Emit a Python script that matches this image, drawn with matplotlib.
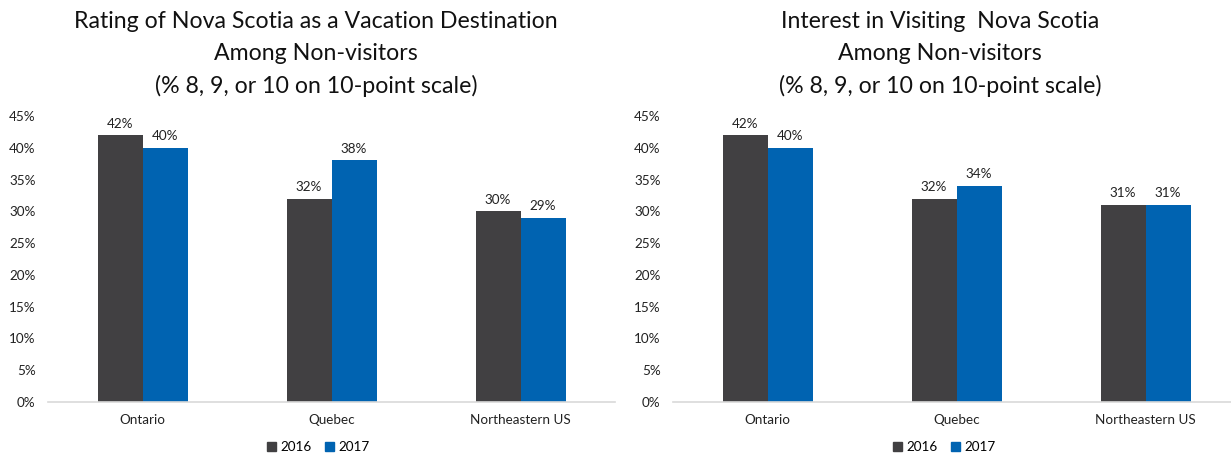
import matplotlib
matplotlib.use("Agg")
import matplotlib.pyplot as plt
from matplotlib.patches import Patch
from matplotlib.ticker import PercentFormatter, MultipleLocator
import numpy as np

plt.rcParams["font.family"] = ["Lato", "DejaVu Sans"]

regions = ["Ontario", "Quebec", "Northeastern US"]
years = ["2016", "2017"]

rating_2016 = [42, 32, 30]
rating_2017 = [40, 38, 29]
interest_2016 = [42, 32, 31]
interest_2017 = [40, 34, 31]

title_left = ["Rating of Nova Scotia as a Vacation Destination",
              "Among Non-visitors",
              "(% 8, 9, or 10 on 10-point scale)"]
title_right = ["Interest in Visiting  Nova Scotia",
               "Among Non-visitors",
               "(% 8, 9, or 10 on 10-point scale)"]

C16 = "#414042"
C17 = "#0063b1"
W, H = 1231, 453


def draw_panel(fig, left_px, v16, v17):
    ax = fig.add_axes([left_px / W, (H - 402) / H, 567 / W, 286 / H])
    x = np.arange(len(regions))
    bw = 45 / 189
    b1 = ax.bar(x - bw / 2, v16, bw, color=C16, label=years[0])
    b2 = ax.bar(x + bw / 2, v17, bw, color=C17, label=years[1])
    for b in (b1, b2):
        ax.bar_label(b, fmt="{:.0f}%", padding=4, fontsize=9.7, color="#222222")
    ax.set_xlim(-0.5, len(regions) - 0.5)
    ax.set_ylim(0, 45)
    ax.yaxis.set_major_locator(MultipleLocator(5))
    ax.yaxis.set_major_formatter(PercentFormatter(decimals=0))
    ax.set_xticks(x)
    ax.set_xticklabels(regions)
    ax.tick_params(axis="both", length=0, labelsize=9.7, colors="#222222")
    ax.tick_params(axis="y", pad=9)
    ax.tick_params(axis="x", pad=9)
    for s in ("top", "right", "left"):
        ax.spines[s].set_visible(False)
    ax.spines["bottom"].set_color("#d9d9d9")
    ax.spines["bottom"].set_linewidth(1.2)
    return ax


def draw_title(fig, cx_px, lines):
    for i, line in enumerate(lines):
        fig.text(cx_px / W, 1 - (22 + 32 * i) / H, line, ha="center", va="center",
                 fontsize=16.7, color="#111111")


def draw_legend(fig, cx_px):
    handles = [Patch(color=C16, label=years[0]), Patch(color=C17, label=years[1])]
    fig.legend(handles=handles, loc="center", bbox_to_anchor=(cx_px / W, 1 - 447 / H),
               ncol=2, frameon=False, fontsize=9.7, handlelength=0.7, handleheight=0.7,
               handletextpad=0.3, columnspacing=1.0, borderaxespad=0)


fig = plt.figure(figsize=(W / 100, H / 100), dpi=100)
draw_panel(fig, 48, rating_2016, rating_2017)
draw_panel(fig, 673, interest_2016, interest_2017)
draw_title(fig, 316, title_left)
draw_title(fig, 940, title_right)
draw_legend(fig, 318)
draw_legend(fig, 944)
fig.savefig("out.png", dpi=100)
